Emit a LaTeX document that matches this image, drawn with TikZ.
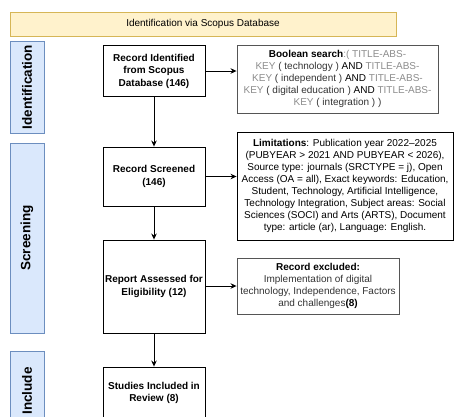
\documentclass[tikz,border=0pt]{standalone}
\usepackage{fontspec}
\setmainfont{Liberation Sans}
\usetikzlibrary{arrows.meta}
\definecolor{bannerfill}{HTML}{FFF2CC}
\definecolor{bannerdraw}{HTML}{D6B656}
\definecolor{stagefill}{HTML}{DAE8FC}
\definecolor{stagedraw}{HTML}{6C8EBF}
\definecolor{keygray}{HTML}{8C8C8C}
\definecolor{textgray}{HTML}{333333}
\definecolor{boxgray}{HTML}{555555}
\newcommand{\kg}[1]{\textcolor{keygray}{#1}}
\begin{document}
\begin{tikzpicture}[x=1pt,y=-1pt]
  \tikzset{BoxStyle/.style = {draw=black,line width=0.9pt,align=center,inner sep=1pt,font=\fontsize{10}{12.5}\selectfont\bfseries},
  NoteStyle/.style = {draw=boxgray,line width=0.9pt,align=center,inner sep=1pt,text=textgray,font=\fontsize{10}{12}\selectfont},
  StageStyle/.style = {draw=stagedraw,fill=stagefill,line width=0.8pt,rotate=90,minimum height=34pt,font=\fontsize{13.5}{14}\selectfont\bfseries},
  ArrowStyle/.style = {draw=black,line width=0.9pt,-{Stealth[length=6pt,width=5.5pt]}}}
\path[use as bounding box,clip] (0,0) rectangle (454,416);
\node[draw=bannerdraw,fill=bannerfill,line width=0.8pt,minimum width=386pt,minimum height=24pt,font=\fontsize{10}{12}\selectfont] (banner) at (203,24) {Identification via Scopus Database};
\node[StageStyle,minimum width=92pt] (ident) at (27,87) {Identification};
\node[StageStyle,minimum width=190pt] (screen) at (27,238) {Screening};
\node[StageStyle,minimum width=80pt] (incl) at (27,391) {Include};
%
\node[BoxStyle,minimum width=102pt,minimum height=51pt] (rec1) at (154,71) {Record Identified\\from Scopus\\Database (146)};
\node[BoxStyle,minimum width=102pt,minimum height=59pt] (rec2) at (154,176.5) {Record Screened\\(146)};
\node[BoxStyle,minimum width=102pt,minimum height=93pt] (rec3) at (154,286.5) {Report Assessed for\\Eligibility (12)};
\node[BoxStyle,minimum width=102pt,minimum height=52pt] (rec4) at (154,393) {Studies Included in\\Review (8)};
%
\node[NoteStyle,minimum width=201pt,minimum height=68pt] (bool) at (337.5,79) {\textcolor{black}{\textbf{Boolean search}}\kg{:( TITLE-ABS-}\\\kg{KEY} ( technology ) \textcolor{black}{AND} \kg{TITLE-ABS-}\\\kg{KEY} ( independent ) \textcolor{black}{AND} \kg{TITLE-ABS-}\\\kg{KEY} ( digital education ) \textcolor{black}{AND} \kg{TITLE-ABS-}\\\kg{KEY} ( integration ) )};
\node[NoteStyle,draw=black,text=black,minimum width=216pt,minimum height=108pt] (limit) at (345,186) {\textbf{Limitations}: Publication year 2022--2025\\(PUBYEAR > 2021 AND PUBYEAR < 2026),\\Source type: journals (SRCTYPE = j), Open\\Access (OA = all), Exact keywords: Education,\\Student, Technology, Artificial Intelligence,\\Technology Integration, Subject areas: Social\\Sciences (SOCI) and Arts (ARTS), Document\\type: article (ar), Language: English.};
\node[NoteStyle,minimum width=162pt,minimum height=56pt] (excl) at (318,286) {\textcolor{black}{\textbf{Record excluded:}}\\Implementation of digital\\technology, Independence, Factors\\and challenges\textcolor{black}{\textbf{(8)}}};
%
\draw[ArrowStyle] (rec1.east) -- (rec1.east -| bool.west);
\draw[ArrowStyle] (rec1.south) -- (rec2.north);
\draw[ArrowStyle] (rec2.east) -- (rec2.east -| limit.west);
\draw[ArrowStyle] (rec2.south) -- (rec3.north);
\draw[ArrowStyle] (rec3.east |- excl.west) -- (excl.west);
\draw[ArrowStyle] (rec3.south) -- (rec4.north);
\end{tikzpicture}
\end{document}
